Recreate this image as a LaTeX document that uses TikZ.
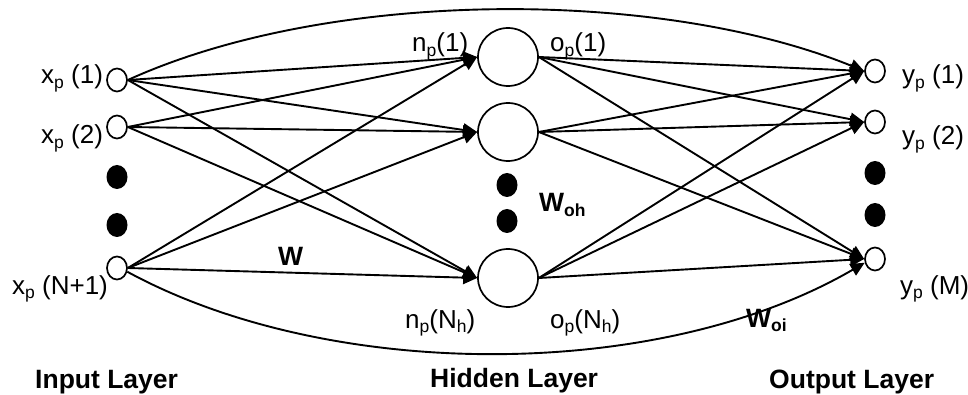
\documentclass[tikz,border=0pt]{standalone}
\usepackage{fontspec}
\setmainfont{Liberation Sans}
\usetikzlibrary{arrows.meta,shapes.geometric}
\newcommand{\lsub}[1]{\raisebox{-0.16em}{\fontsize{17.5}{17.5}\selectfont #1}}
\begin{document}
\begin{tikzpicture}[x=1pt,y=-1pt,
  unit/.style={ellipse,draw,line width=1.7pt,fill=white,minimum width=20pt,minimum height=23pt,inner sep=0pt},
  hid/.style={ellipse,draw,line width=1.7pt,fill=white,minimum width=60pt,minimum height=58pt,inner sep=0pt},
  ddot/.style={ellipse,fill=black,minimum width=21pt,minimum height=24pt,inner sep=0pt},
  lbl/.style={inner sep=0pt,anchor=base west,font=\fontsize{26}{28}\selectfont},
  blbl/.style={lbl,font=\fontsize{26.5}{28}\selectfont\bfseries},
  wire/.style={line width=1.9pt},
  arr/.style={wire,-{Triangle[length=14pt,width=13pt]}}]
\useasboundingbox (0,0) rectangle (968,395);

% input layer
\node[unit] (x1) at (117,80) {};
\node[unit] (x2) at (117,127) {};
\node[ddot] (xd1) at (117,177) {};
\node[ddot] (xd2) at (117,225) {};
\node[unit] (x3) at (117,268) {};

% hidden layer
\node[hid] (h1) at (508,57) {};
\node[hid] (h2) at (508,132) {};
\node[ddot] (hd1) at (507,185) {};
\node[ddot] (hd2) at (507,221) {};
\node[hid] (h3) at (508,278) {};

% output layer
\node[unit] (y1) at (875,71) {};
\node[unit] (y2) at (875,122) {};
\node[ddot] (yd1) at (875,173) {};
\node[ddot] (yd2) at (875,215) {};
\node[unit] (y3) at (875,259) {};

% weights: input -> hidden
\foreach \i in {x1,x2,x3}
  \foreach \j in {h1,h2,h3}
    \draw[arr] (\i.east) -- (\j.west);
% weights: hidden -> output
\foreach \i in {h1,h2,h3}
  \foreach \j in {y1,y2,y3}
    \draw[arr] (\i.east) -- (\j.west);
% direct input -> output connections
\draw[arr] (x1.east) .. controls (330,-12) and (660,-12) .. (y1.west);
\draw[arr] (x3.-20) .. controls (330,382) and (660,382) .. (y3.200);

% labels
\node[lbl] (lx1) at (41,84) {x\lsub{p} (1)};
\node[lbl] (lx2) at (41,144) {x\lsub{p} (2)};
\node[lbl] (lx3) at (12,294) {x\lsub{p} (N+1)};
\node[lbl] (ln1) at (412,52) {n\lsub{p}(1)};
\node[lbl] (lo1) at (550,52) {o\lsub{p}(1)};
\node[lbl] (ln3) at (405,328) {n\lsub{p}(N\lsub{h})};
\node[lbl] (lo3) at (550,328) {o\lsub{p}(N\lsub{h})};
\node[lbl] (ly1) at (902,84) {y\lsub{p} (1)};
\node[lbl] (ly2) at (902,145) {y\lsub{p} (2)};
\node[lbl] (ly3) at (900,294) {y\lsub{p} (M)};

\node[blbl] (lw) at (278,265) {W};
\node[blbl] (lwoh) at (539,212) {W\lsub{\bfseries oh}};
\node[blbl] (lwoi) at (746,327) {W\lsub{\bfseries oi}};

\node[blbl] (lin) at (35,388) {Input Layer};
\node[blbl] (lhid) at (430,387) {Hidden Layer};
\node[blbl] (lout) at (769,388) {Output Layer};
\end{tikzpicture}
\end{document}
